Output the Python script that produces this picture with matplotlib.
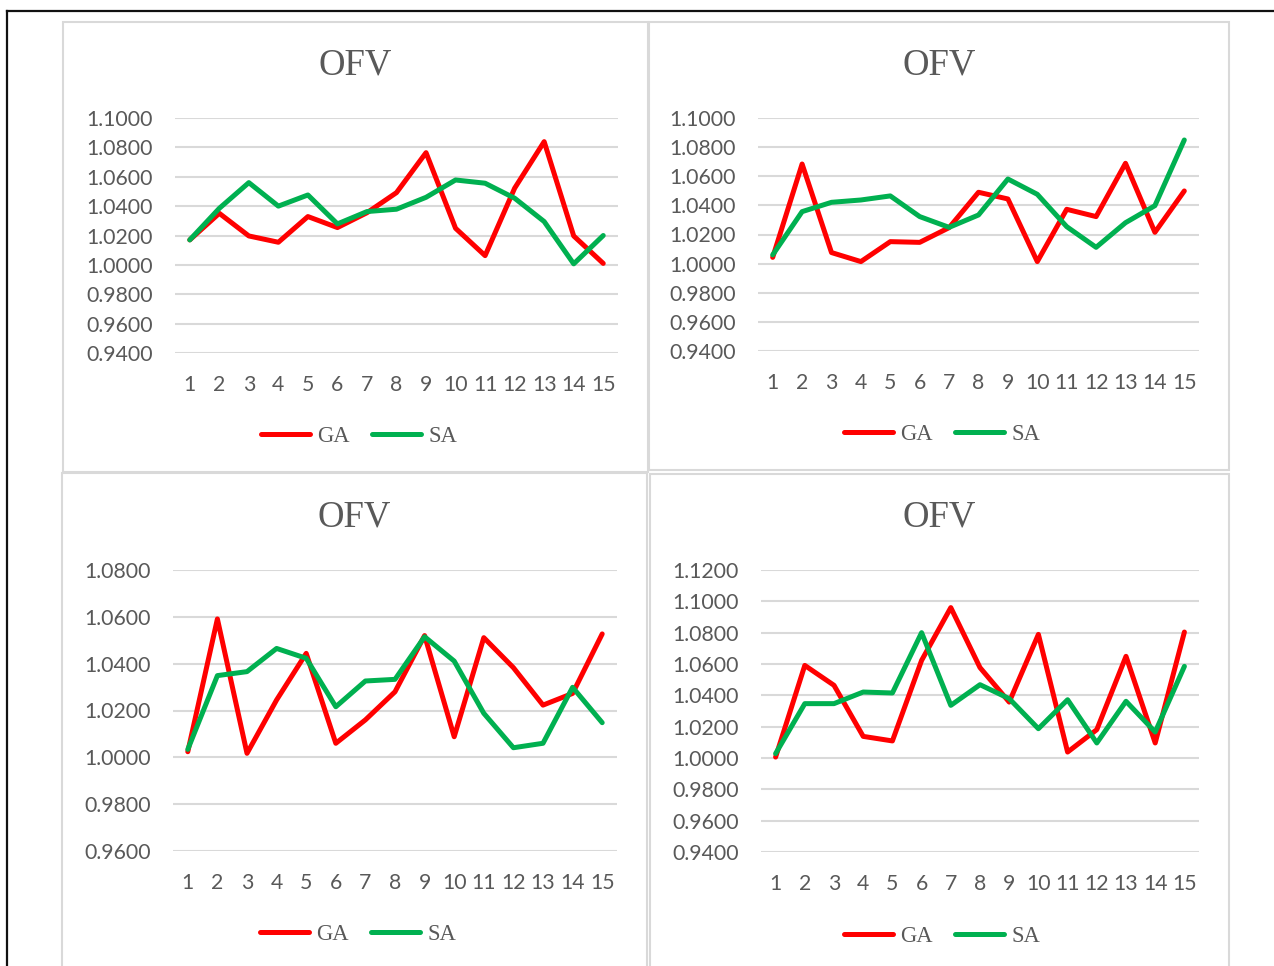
import matplotlib
matplotlib.use("Agg")
import matplotlib.pyplot as plt
from matplotlib.lines import Line2D
from matplotlib.patches import Rectangle
from matplotlib.ticker import FormatStrFormatter

# ---------------- data ----------------
x_labels = [str(i) for i in range(1, 16)]
series_names = ["GA", "SA"]
title_text = "OFV"

GA1 = [1.0170, 1.0351, 1.0197, 1.0154, 1.0329, 1.0254, 1.0355, 1.0492, 1.0764, 1.0249, 1.0063, 1.0522, 1.0839, 1.0197, 1.0010]
SA1 = [1.0170, 1.0385, 1.0560, 1.0400, 1.0476, 1.0279, 1.0363, 1.0379, 1.0460, 1.0578, 1.0556, 1.0454, 1.0295, 1.0007, 1.0200]
GA2 = [1.0043, 1.0684, 1.0076, 1.0014, 1.0151, 1.0146, 1.0247, 1.0490, 1.0444, 1.0014, 1.0373, 1.0323, 1.0689, 1.0215, 1.0499]
SA2 = [1.0060, 1.0357, 1.0421, 1.0437, 1.0465, 1.0323, 1.0249, 1.0334, 1.0581, 1.0476, 1.0254, 1.0112, 1.0281, 1.0398, 1.0849]
GA3 = [1.0024, 1.0591, 1.0017, 1.0245, 1.0444, 1.0060, 1.0160, 1.0280, 1.0520, 1.0088, 1.0511, 1.0383, 1.0223, 1.0273, 1.0527]
SA3 = [1.0034, 1.0349, 1.0366, 1.0465, 1.0423, 1.0216, 1.0326, 1.0333, 1.0515, 1.0411, 1.0188, 1.0041, 1.0060, 1.0299, 1.0148]
GA4 = [1.0006, 1.0591, 1.0464, 1.0138, 1.0109, 1.0623, 1.0960, 1.0577, 1.0357, 1.0789, 1.0038, 1.0181, 1.0649, 1.0096, 1.0804]
SA4 = [1.0028, 1.0347, 1.0347, 1.0421, 1.0415, 1.0800, 1.0336, 1.0468, 1.0379, 1.0187, 1.0372, 1.0096, 1.0362, 1.0166, 1.0585]

y_ranges = [(0.94, 1.10), (0.94, 1.10), (0.96, 1.08), (0.94, 1.12)]
# --------------------------------------

W, H = 1274, 966
fig = plt.figure(figsize=(W / 100, H / 100), dpi=100)

def fx(px):
    return px / W

def fy(py):
    return 1 - py / H

GRAY_TXT = "#595959"
GRID = "#d9d9d9"
RED = "#ff0000"
GREEN = "#00b050"
TICK_FONT = ["Lato", "DejaVu Sans"]
SERIF = ["Liberation Serif", "DejaVu Serif"]

# outer black frame
fig.add_artist(Line2D([fx(7), fx(W + 5)], [fy(11), fy(11)], color="#111111", lw=1.6))
fig.add_artist(Line2D([fx(7), fx(7)], [fy(11), fy(H + 5)], color="#111111", lw=1.6))

# panel frames (left, top, right, bottom) in pixels
panels = [(63, 22, 648, 472), (649, 22, 1229, 470), (62, 473, 647, 975), (650, 474, 1229, 975)]
for (l, t, r, b) in panels:
    fig.add_artist(Rectangle((fx(l), fy(b)), fx(r) - fx(l), fy(t) - fy(b),
                             fill=False, edgecolor=GRID, lw=1.5))

# plot areas (left, top, right, bottom) in pixels
areas = [(175, 118, 618, 353), (758, 118, 1199, 351), (173, 570, 617, 851), (761, 570, 1199, 852)]
titles_xy = [(355, 65), (939, 65), (354, 517), (939, 517)]
legend_xy = [(359, 436), (942, 434), (358, 934), (942, 936)]
data = [(GA1, SA1), (GA2, SA2), (GA3, SA3), (GA4, SA4)]

xs = list(range(1, 16))
for i in range(4):
    l, t, r, b = areas[i]
    ax = fig.add_axes([fx(l), fy(b), fx(r) - fx(l), fy(t) - fy(b)])
    ga, sa = data[i]
    ax.plot(xs, ga, color=RED, lw=3.6, solid_capstyle="round", solid_joinstyle="round",
            label=series_names[0], clip_on=False, zorder=3)
    ax.plot(xs, sa, color=GREEN, lw=3.6, solid_capstyle="round", solid_joinstyle="round",
            label=series_names[1], clip_on=False, zorder=3)
    lo, hi = y_ranges[i]
    ax.set_ylim(lo, hi)
    ax.set_xlim(0.5, 15.5)
    n = int(round((hi - lo) / 0.02))
    ax.set_yticks([lo + 0.02 * k for k in range(n + 1)])
    ax.yaxis.set_major_formatter(FormatStrFormatter("%.4f"))
    ax.set_xticks(xs)
    ax.set_xticklabels(x_labels)
    ax.grid(axis="y", color=GRID, lw=1.5)
    ax.set_axisbelow(True)
    for s in ax.spines.values():
        s.set_visible(False)
    ax.tick_params(axis="both", length=0, labelcolor=GRAY_TXT, labelsize=15.3)
    ax.tick_params(axis="y", pad=16)
    ax.tick_params(axis="x", pad=16)
    for lab in ax.get_xticklabels() + ax.get_yticklabels():
        lab.set_family(TICK_FONT)
    fig.text(fx(titles_xy[i][0]), fy(titles_xy[i][1]), title_text, ha="center", va="center",
             fontsize=26.5, color=GRAY_TXT, family=SERIF)
    leg = ax.legend(loc="center", bbox_to_anchor=(fx(legend_xy[i][0]), fy(legend_xy[i][1])),
                    bbox_transform=fig.transFigure, ncol=2, frameon=False,
                    prop={"family": SERIF, "size": 16.3}, handlelength=2.17,
                    handletextpad=0.33, columnspacing=0.95, borderpad=0, borderaxespad=0)
    for txt in leg.get_texts():
        txt.set_color(GRAY_TXT)

fig.savefig("out.png", dpi=100)
